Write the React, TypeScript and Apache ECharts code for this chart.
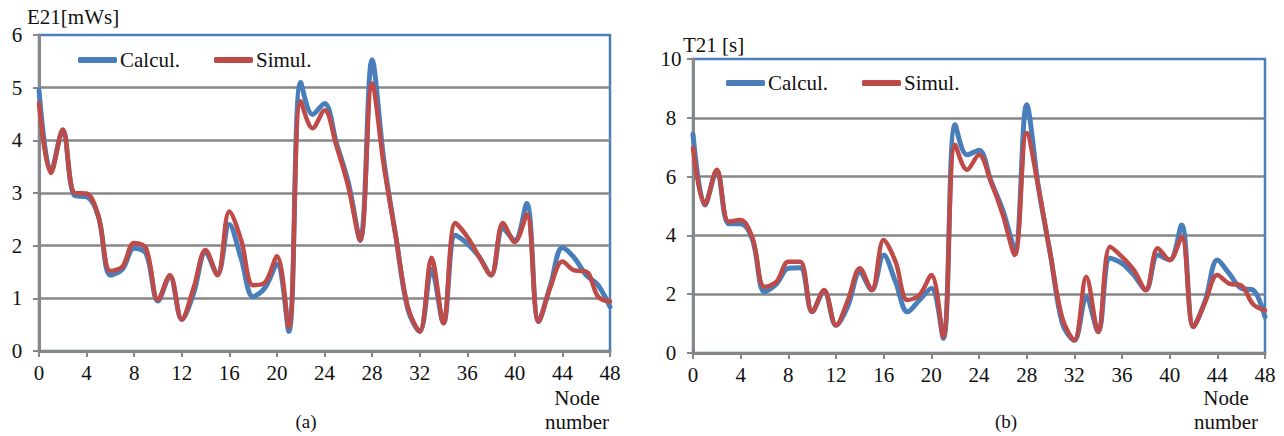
import React, { useEffect, useRef } from "react";
import * as echarts from "echarts";

const nodes: number[] = Array.from({ length: 49 }, (_, i) => i);

const eCalc = [4.95, 3.4, 4.2, 2.95, 2.93, 2.55, 1.44, 1.55, 1.95, 1.85, 0.95, 1.42, 0.6, 1.1, 1.88, 1.45, 2.4, 1.75, 1.03, 1.2, 1.65, 0.37, 5.1, 4.49, 4.7, 3.95, 3.2, 2.1, 5.53, 3.6, 2.17, 0.8, 0.37, 1.55, 0.53, 2.2, 2.04, 1.79, 1.44, 2.33, 2.1, 2.8, 0.56, 1.25, 1.96, 1.77, 1.44, 1.25, 0.84];
const eSim = [4.7, 3.38, 4.2, 3.0, 2.99, 2.55, 1.52, 1.6, 2.05, 1.95, 0.97, 1.44, 0.6, 1.2, 1.92, 1.44, 2.65, 2.1, 1.25, 1.3, 1.8, 0.45, 4.74, 4.23, 4.57, 3.9, 3.12, 2.1, 5.08, 3.5, 2.17, 0.84, 0.37, 1.77, 0.53, 2.43, 2.17, 1.79, 1.44, 2.43, 2.07, 2.59, 0.56, 1.22, 1.7, 1.53, 1.51, 1.03, 0.94];

const tCalc = [7.44, 5.03, 6.2, 4.4, 4.4, 3.85, 2.08, 2.35, 2.88, 2.9, 1.4, 2.1, 0.94, 1.6, 2.75, 2.14, 3.33, 2.42, 1.4, 1.8, 2.2, 0.5, 7.76, 6.74, 6.9, 5.85, 4.85, 3.55, 8.44, 5.6, 3.33, 1.0, 0.43, 1.9, 0.72, 3.22, 3.05, 2.65, 2.14, 3.33, 3.16, 4.35, 0.89, 1.8, 3.16, 2.7, 2.2, 2.14, 1.23];
const tSim = [6.97, 5.05, 6.23, 4.47, 4.52, 3.9, 2.25, 2.42, 3.1, 3.1, 1.4, 2.14, 0.94, 1.8, 2.88, 2.14, 3.84, 3.1, 1.8, 1.97, 2.65, 0.55, 7.08, 6.23, 6.74, 5.83, 4.7, 3.33, 7.48, 5.6, 3.33, 1.17, 0.43, 2.59, 0.72, 3.61, 3.27, 2.82, 2.14, 3.56, 3.16, 3.95, 0.89, 1.75, 2.65, 2.36, 2.3, 1.66, 1.45];

const seriesNames = ["Calcul.", "Simul."];
const xTitle = "Node\nnumber";
const panelLabels = ["(a)", "(b)"];
const yTitles = ["E21[mWs]", "T21 [s]"];

const BLUE = "#4A7EBB";
const RED = "#BE4B48";
const GRAY = "#878787";
const FONT = "Liberation Serif";

const pairs = (ys: number[]) => nodes.map((n, i) => [n, ys[i]]);

export default function App() {
  const ref = useRef<HTMLDivElement>(null);
  useEffect(() => {
    if (!ref.current) return;
    const chart = echarts.init(ref.current, undefined, { renderer: "svg" });

    const xAxisBase = (gridIndex: number) => ({
      type: "value" as const,
      gridIndex,
      min: 0,
      max: 48,
      interval: 4,
      axisLine: { show: true, lineStyle: { color: GRAY, width: 3 } },
      axisTick: { show: true, length: 6, lineStyle: { color: GRAY, width: 2 } },
      axisLabel: { color: "#111", fontSize: 21, fontFamily: FONT, margin: 11 },
      splitLine: { show: false },
    });
    const yAxisBase = (gridIndex: number, max: number, interval: number) => ({
      type: "value" as const,
      gridIndex,
      min: 0,
      max,
      interval,
      axisLine: { show: true, lineStyle: { color: GRAY, width: 3 } },
      axisTick: { show: true, length: 6, lineStyle: { color: GRAY, width: 2 } },
      axisLabel: { color: "#111", fontSize: 21, fontFamily: FONT, margin: 22, align: "center" },
      splitLine: { show: true, showMaxLine: false, lineStyle: { color: GRAY, width: 2.5 } },
    });

    const lineSeries = (name: string, data: number[], color: string, idx: number, width: number, z: number) => ({
      name,
      type: "line" as const,
      xAxisIndex: idx,
      yAxisIndex: idx,
      data: pairs(data),
      smooth: 0.35,
      showSymbol: false,
      symbol: "none",
      lineStyle: { color, width, cap: "round", join: "round" },
      itemStyle: { color },
      z,
    });

    const legendItem = (name: string, left: number, top: number) => ({
      data: [name],
      left,
      top,
      padding: 0,
      icon: "roundRect",
      itemWidth: 39,
      itemHeight: 6,
      itemGap: 0,
      textStyle: { fontSize: 21, fontFamily: FONT, color: "#111", lineHeight: 24, padding: [0, 0, 0, -2] },
      selectedMode: false,
    });

    const txt = (text: string, x: number, y: number, size: number, align: string = "center") => ({
      type: "text",
      x,
      y,
      style: { text, fill: "#111", fontSize: size, fontFamily: FONT, textAlign: align, textVerticalAlign: "middle", lineHeight: 24 },
    });

    chart.setOption({
      animation: false,
      backgroundColor: "#fff",
      grid: [
        { left: 39, top: 35, width: 571, height: 316, show: true, borderColor: BLUE, borderWidth: 2.5, backgroundColor: "transparent" },
        { left: 693, top: 59, width: 572, height: 294, show: true, borderColor: BLUE, borderWidth: 2.5, backgroundColor: "transparent" },
      ],
      xAxis: [xAxisBase(0), xAxisBase(1)],
      yAxis: [yAxisBase(0, 6, 1), yAxisBase(1, 10, 2)],
      legend: [
        legendItem(seriesNames[0], 78, 48),
        legendItem(seriesNames[1], 214, 48),
        legendItem(seriesNames[0], 726, 71),
        legendItem(seriesNames[1], 862, 71),
      ],
      series: [
        lineSeries(seriesNames[0], eCalc, BLUE, 0, 5, 2),
        lineSeries(seriesNames[1], eSim, RED, 0, 4.5, 3),
        lineSeries(seriesNames[0], tCalc, BLUE, 1, 5, 2),
        lineSeries(seriesNames[1], tSim, RED, 1, 4.5, 3),
      ],
      graphic: [
        txt(yTitles[0], 27, 17, 21, "left"),
        txt(yTitles[1], 683, 45, 21, "left"),
        txt(xTitle, 577, 410, 21),
        txt(xTitle, 1226, 410, 21),
        txt(panelLabels[0], 306, 421, 19),
        txt(panelLabels[1], 1006, 421, 19),
      ],
    });
    return () => chart.dispose();
  }, []);
  return <div ref={ref} style={{ position: "fixed", left: 0, top: 0, width: 1284, height: 436 }} />;
}
